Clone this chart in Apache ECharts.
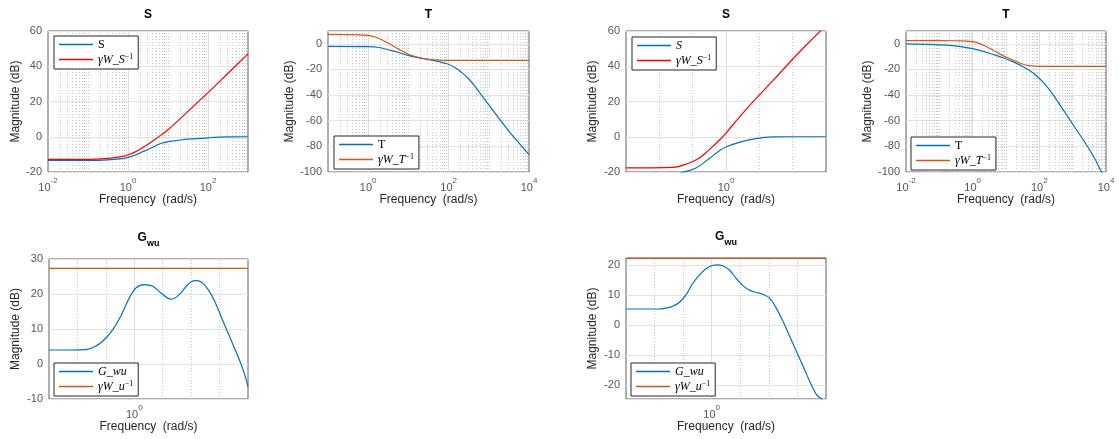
<!DOCTYPE html>
<html lang="en">
<head>
<meta charset="UTF-8" />
<title>Weighted sensitivity magnitudes</title>
<script src="https://cdn.jsdelivr.net/npm/echarts@6/dist/echarts.min.js"></script>
<style>
  html, body { margin: 0; padding: 0; background: #fff; }
  #main { width: 1119px; height: 439px; }
</style>
</head>
<body>
<div id="main"></div>
<script>
// values: frequency in rad/s, magnitude in dB

// top row, first design
var s1Freq = [0.01, 0.1, 0.316, 0.692, 1, 1.48, 2.19, 3.24, 4.73, 6.92, 10, 13.5, 18.2, 31.6, 100, 316, 1000];
var s1S    = [-13.4, -13.4, -13.1, -12.4, -11.7, -10.5, -8.8, -7.1, -5.3, -3.7, -2.8, -2.4, -2.0, -1.4, -0.6, -0.1, 0];
var s1Ws   = [-12.8, -12.8, -12.3, -11.3, -10.2, -8.7, -6.6, -4.1, -1.5, 1.2, 4.0, 6.6, 9.3, 14.4, 25.0, 36.0, 47];

var t1Freq = [0.1, 1, 1.74, 3.09, 5.5, 9.77, 17.4, 30.9, 53.7, 95.5, 141, 204, 302, 437, 646, 1150, 2040, 3630, 6310, 10000];
var t1T    = [-2.0, -2.2, -2.7, -4.6, -6.6, -9.0, -10.8, -12.1, -13.7, -15.7, -18.3, -22.0, -26.7, -32.6, -39.7, -50.1, -60.5, -70.4, -79.2, -86.5];
var t1WtFreq = [0.1, 1, 1.74, 3.09, 5.5, 9.77, 17.4, 30.9, 53.7, 100, 1000, 10000];
var t1Wt     = [7.4, 6.6, 4.5, 0.6, -3.8, -7.9, -10.5, -12.1, -12.6, -12.9, -12.9, -12.9];

// top row, second design
var s2SFreq = [0.251, 0.355, 0.447, 0.55, 0.66, 0.794, 0.912, 1, 1.2, 1.51, 1.91, 2.4, 3.98];
var s2S     = [-30, -26.5, -23.3, -20.2, -17.7, -12.4, -7.9, -5.8, -3.2, -1.1, -0.1, 0, 0];
var s2WsFreq = [0.251, 0.479, 0.603, 0.692, 0.794, 0.912, 1, 1.2, 1.51, 1.91, 2.4, 3.02, 3.98];
var s2Ws     = [-17.7, -17.4, -14.9, -12.1, -7.3, -2.0, 2.1, 11.0, 21.6, 31.8, 42.0, 51.9, 63];

var t2Freq = [0.01, 0.0776, 0.245, 1, 2.45, 6.17, 15.5, 38, 75.9, 151, 302, 603, 1200, 2400, 4790, 6760, 10000];
var t2T    = [-0.1, -0.7, -1.4, -3.8, -6.4, -9.8, -13.7, -18.9, -24.1, -31.9, -42.3, -54.0, -65.7, -77.4, -90.4, -98.2, -104];
var t2WtFreq = [0.01, 0.1, 0.316, 1, 1.95, 3.89, 7.76, 15.5, 30.9, 47.9, 100, 10000];
var t2Wt     = [2.5, 2.5, 2.4, 1.7, -0.7, -4.6, -9.0, -12.4, -15.7, -17.0, -17.6, -17.6];

// bottom row
var g1Freq = [0.251, 0.355, 0.457, 0.537, 0.617, 0.708, 0.813, 0.923, 1.03, 1.18, 1.35, 1.54, 1.82, 2.08, 2.38, 2.65, 2.96, 3.30, 3.67, 4.21, 4.94, 5.82, 6.31];
var g1G    = [4.0, 4.0, 4.1, 5.1, 7.0, 9.9, 14.1, 18.9, 21.8, 22.7, 22.2, 20.3, 18.5, 19.9, 22.7, 23.8, 23.4, 21.3, 18.0, 12.2, 5.6, -1.6, -6.5];
var g1WuFreq = [0.251, 6.31];
var g1Wu     = [27.3, 27.3];

var g2Freq = [0.251, 0.427, 0.479, 0.525, 0.589, 0.661, 0.724, 0.813, 0.912, 1.01, 1.10, 1.19, 1.33, 1.48, 1.65, 1.84, 2.05, 2.28, 2.54, 2.83, 3.16, 3.52, 3.92, 4.37, 4.86, 5.42, 5.87, 6.31];
var g2G    = [5.3, 5.3, 5.6, 6.1, 7.4, 10.0, 13.3, 16.4, 18.7, 19.8, 20.0, 19.7, 18.3, 15.6, 13.1, 11.6, 10.8, 10.2, 8.9, 5.6, 1.1, -3.9, -8.9, -13.9, -18.9, -23.3, -24.7, -28];
var g2WuFreq = [0.251, 6.31];
var g2Wu     = [22.2, 22.2];

var BLUE = "#0072bd", ORANGE = "#d95319", RED = "#ff0000";
var SANS = "'Liberation Sans', Arial, Helvetica, sans-serif";
var SERIF = "'Liberation Serif', 'Times New Roman', serif";

function pts(freq, mag) {
  return freq.map(function (w, i) { return [Math.log10(w), mag[i]]; });
}

var panels = [
  { grid: { left: 48, top: 31, width: 200, height: 141 }, x: [-2, 3], xStep: 1, y: [-20, 60], yStep: 20, nameGap: 26,
    title: "S", legend: { left: 54, top: 36 },
    lines: [["S_1", s1Freq, s1S, BLUE], ["WS_1", s1Freq, s1Ws, RED]] },
  { grid: { left: 328, top: 31, width: 201, height: 141 }, x: [-1, 4], xStep: 1, y: [-100, 10], yStep: 20, nameGap: 31,
    title: "T", legend: { left: 334, top: 136 }, hideMax: true,
    lines: [["T_2", t1Freq, t1T, BLUE], ["WT_2", t1WtFreq, t1Wt, ORANGE]] },
  { grid: { left: 626, top: 31, width: 200, height: 141 }, x: [-0.6, 0.6], xStep: 0.2, y: [-20, 60], yStep: 20, nameGap: 27,
    title: "S", legend: { left: 632, top: 37 },
    lines: [["S_3", s2SFreq, s2S, BLUE], ["WS_3", s2WsFreq, s2Ws, RED]] },
  { grid: { left: 906, top: 31, width: 200, height: 141 }, x: [-2, 4], xStep: 1, y: [-100, 10], yStep: 20, nameGap: 31,
    title: "T", legend: { left: 911, top: 137 }, hideMax: true,
    lines: [["T_4", t2Freq, t2T, BLUE], ["WT_4", t2WtFreq, t2Wt, ORANGE]] },
  { grid: { left: 49, top: 259, width: 199, height: 140 }, x: [-0.6, 0.8], xStep: 0.2, y: [-10, 30], yStep: 10, nameGap: 27,
    title: "Gwu", legend: { left: 54, top: 363 },
    lines: [["G_5", g1Freq, g1G, BLUE], ["WU_5", g1WuFreq, g1Wu, ORANGE]] },
  { grid: { left: 626, top: 258, width: 200, height: 141 }, x: [-0.6, 0.8], xStep: 0.2, y: [-24.7, 22.3], yStep: null, nameGap: 27,
    title: "Gwu", legend: { left: 631, top: 363 }, hideMin: true, hideMax: true,
    lines: [["G_6", g2Freq, g2G, BLUE], ["WU_6", g2WuFreq, g2Wu, ORANGE]] }
];

var legendText = {
  S_1: "{r|S}", WS_1: "{i|γW}{r|_}{i|S}{s|−1}",
  T_2: "{r|T}", WT_2: "{i|γW}{r|_}{i|T}{s|−1}",
  S_3: "{i|S}", WS_3: "{i|γW}{r|_}{i|S}{s|−1}",
  T_4: "{r|T}", WT_4: "{i|γW}{r|_}{i|T}{s|−1}",
  G_5: "{i|G}{r|_}{i|wu}", WU_5: "{i|γW}{r|_}{i|u}{s|−1}",
  G_6: "{i|G}{r|_}{i|wu}", WU_6: "{i|γW}{r|_}{i|u}{s|−1}"
};

// vertical grid lines, the way the log axes of the original draw them
function gridMarks(p) {
  var out = [], lo = p.x[0], hi = p.x[1], v, k, m, major;
  if (p.xStep === 1) {
    for (k = Math.floor(lo); k < Math.ceil(hi); k++) {
      for (m = 1; m <= 9; m++) {
        v = k + Math.log10(m);
        if (v <= lo + 1e-6 || v >= hi - 1e-6) continue;
        major = m === 1 && k % 2 === 0;
        out.push({ xAxis: v, lineStyle: major ? { color: "#dcdcdc", type: "solid", width: 1 } : { color: "#c8c8c8", type: [1, 2], width: 1 } });
      }
    }
  } else {
    for (v = lo + p.xStep; v < hi - 1e-6; v += p.xStep) {
      major = Math.abs(v) < 1e-6;
      out.push({ xAxis: major ? 0 : v, lineStyle: major ? { color: "#dcdcdc", type: "solid", width: 1 } : { color: "#c8c8c8", type: [1, 2], width: 1 } });
    }
  }
  return out;
}

var option = {
  animation: false,
  backgroundColor: "#fff",
  grid: [], xAxis: [], yAxis: [], series: [], legend: [], graphic: []
};

var richLabel = {
  b: { fontFamily: SANS, fontSize: 11, color: "#555", lineHeight: 16, verticalAlign: "bottom" },
  e: { fontFamily: SANS, fontSize: 8, color: "#555", lineHeight: 16, verticalAlign: "top" }
};
var richLegend = {
  r: { fontFamily: SERIF, fontSize: 12, color: "#000", lineHeight: 13, verticalAlign: "bottom" },
  i: { fontFamily: SERIF, fontSize: 12, fontStyle: "italic", color: "#000", lineHeight: 13, verticalAlign: "bottom" },
  s: { fontFamily: SERIF, fontSize: 8, color: "#000", lineHeight: 13, verticalAlign: "top" }
};

panels.forEach(function (p, i) {
  option.grid.push(Object.assign({ show: true, borderColor: "#5e5e5e", borderWidth: 1, backgroundColor: "#fff" }, p.grid));

  option.xAxis.push({
    gridIndex: i, type: "value", min: p.x[0], max: p.x[1], interval: p.xStep,
    axisLine: { show: false }, axisTick: { show: false }, splitLine: { show: false },
    axisLabel: {
      margin: 5, showMinLabel: true, showMaxLabel: true, rich: richLabel,
      formatter: function (v) {
        var r = Math.round(v);
        if (Math.abs(v - r) > 1e-6 || r % 2 !== 0) return "";
        return "{b|10}{e|" + r + "}";
      }
    },
    name: "Frequency  (rad/s)", nameLocation: "middle", nameGap: 21,
    nameTextStyle: { fontFamily: SANS, fontSize: 12, color: "#262626" }
  });

  var y = {
    gridIndex: i, type: "value", min: p.y[0], max: p.y[1],
    axisLine: { show: false }, axisTick: { show: false },
    splitLine: { show: true, lineStyle: { color: "#e3e3e3", width: 1 } },
    axisLabel: { fontFamily: SANS, fontSize: 11, color: "#555", margin: 6,
      showMinLabel: !p.hideMin, showMaxLabel: !p.hideMax },
    name: "Magnitude (dB)", nameLocation: "middle", nameGap: p.nameGap,
    nameTextStyle: { fontFamily: SANS, fontSize: 12, color: "#262626" }
  };
  if (p.yStep) y.interval = p.yStep;
  option.yAxis.push(y);

  // carrier for the grid lines, drawn under the curves
  option.series.push({
    type: "line", xAxisIndex: i, yAxisIndex: i, data: [], z: 1, silent: true,
    markLine: { silent: true, z: 1, symbol: "none", label: { show: false }, data: gridMarks(p) }
  });

  p.lines.forEach(function (l) {
    option.series.push({
      name: l[0], type: "line", xAxisIndex: i, yAxisIndex: i, z: 4,
      data: pts(l[1], l[2]), symbol: "none", smooth: 0.4,
      lineStyle: { color: l[3], width: 1.2 }, itemStyle: { color: l[3] }
    });
  });

  option.legend.push({
    left: p.legend.left, top: p.legend.top, orient: "vertical", selectedMode: false,
    data: p.lines.map(function (l) { return l[0]; }),
    icon: "rect", itemWidth: 34, itemHeight: 1.4, itemGap: 2, padding: [3, 5, 3, 5],
    borderColor: "#262626", borderWidth: 1, backgroundColor: "#fff", borderRadius: 0, z: 6,
    formatter: function (name) { return legendText[name]; },
    textStyle: { fontFamily: SERIF, fontSize: 12, color: "#000", rich: richLegend }
  });

  var cx = p.grid.left + p.grid.width / 2;
  if (p.title === "Gwu") {
    option.graphic.push({
      type: "text", x: cx, y: p.grid.top - 19,
      style: {
        text: "{g|G}{w|wu}", align: "center", verticalAlign: "middle",
        rich: {
          g: { font: "bold 12px " + SANS, fill: "#000", lineHeight: 16, verticalAlign: "top" },
          w: { font: "bold 9px " + SANS, fill: "#000", lineHeight: 16, verticalAlign: "bottom" }
        }
      }
    });
  } else {
    option.graphic.push({
      type: "text", x: cx, y: p.grid.top - 16,
      style: { text: p.title, font: "bold 12px " + SANS, fill: "#000", align: "center", verticalAlign: "middle" }
    });
  }
});

var chart = echarts.init(document.getElementById("main"));
chart.setOption(option);
</script>
</body>
</html>
